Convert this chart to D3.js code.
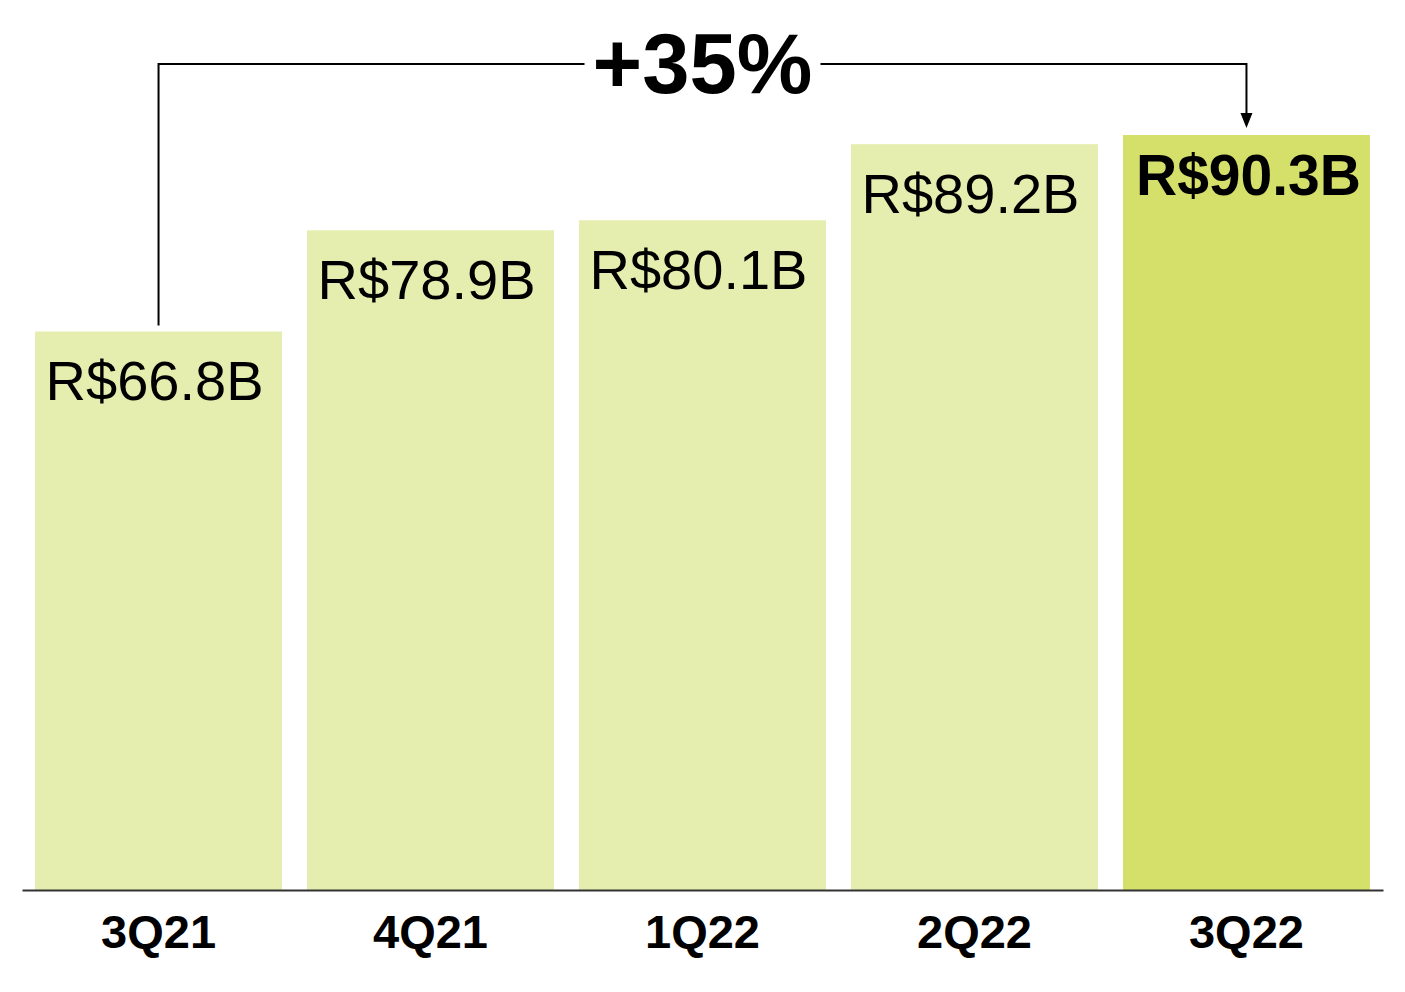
<!DOCTYPE html>
<html>
<head>
<meta charset="utf-8">
<script src="https://cdn.jsdelivr.net/npm/d3@7"></script>
<style>
  html, body { margin: 0; padding: 0; background: #fff; }
  text { font-family: "Liberation Sans", Arial, sans-serif; }
</style>
</head>
<body>
<svg id="chart" width="1405" height="992"></svg>
<script>
var quarters = ['3Q21', '4Q21', '1Q22', '2Q22', '3Q22'],
    volumes = [66.8, 78.9, 80.1, 89.2, 90.3],
    valueLabels = ['R$66.8B', 'R$78.9B', 'R$80.1B', 'R$89.2B', 'R$90.3B'],
    growthLabel = '+35%';

var svg = d3.select('#chart'),
    baseY = 890,
    lastIdx = quarters.length - 1;

var x = d3.scaleBand()
    .domain(quarters)
    .range([22, 1383])
    .paddingInner(0.092)
    .paddingOuter(0.048);

var y = d3.scaleLinear()
    .domain([0, d3.max(volumes)])
    .range([baseY, 135]);

// bars
svg.append('g').selectAll('.bar').data(volumes)
    .enter().append('rect')
    .attr('class', 'bar')
    .attr('x', function(d, i) { return x(quarters[i]); })
    .attr('y', function(d) { return y(d); })
    .attr('width', x.bandwidth())
    .attr('height', function(d) { return baseY - y(d); })
    .attr('fill', function(d, i) { return i === lastIdx ? '#d4e06a' : '#e5eeae'; });

// value labels inside bars, last one bold
svg.append('g').selectAll('.val').data(volumes)
    .enter().append('text')
    .attr('class', 'val')
    .attr('x', function(d, i) { return x(quarters[i]) + x.bandwidth() / 2 + (i === lastIdx ? 2 : -4); })
    .attr('y', function(d, i) { return y(d) + (i === lastIdx ? 60 : 69); })
    .attr('text-anchor', 'middle')
    .attr('font-size', function(d, i) { return i === lastIdx ? '57px' : '56px'; })
    .attr('font-weight', function(d, i) { return i === lastIdx ? 'bold' : 'normal'; })
    .attr('fill', '#000')
    .text(function(d, i) { return valueLabels[i]; });

// baseline axis
var axis = svg.append('g')
    .attr('transform', 'translate(0,' + baseY + ')')
    .call(d3.axisBottom(x).tickSize(0).tickPadding(58));
axis.select('.domain').attr('stroke', '#333').attr('stroke-width', 2);
axis.selectAll('text')
    .attr('font-family', '"Liberation Sans", Arial, sans-serif')
    .attr('font-size', '47px')
    .attr('font-weight', 'bold')
    .attr('fill', '#000')
    .attr('dy', 0);

// growth bracket from first to last bar
var cx0 = x(quarters[0]) + x.bandwidth() / 2,
    cx1 = x(quarters[lastIdx]) + x.bandwidth() / 2,
    topY = 64,
    midX = (cx0 + cx1) / 2;

var bracket = svg.append('g')
    .attr('fill', 'none')
    .attr('stroke', '#000')
    .attr('stroke-width', 2);
bracket.append('path')
    .attr('d', 'M' + cx0 + ',' + (y(volumes[0]) - 6) + 'V' + topY + 'H' + (midX - 118));
bracket.append('path')
    .attr('d', 'M' + (midX + 118) + ',' + topY + 'H' + cx1 + 'V' + (y(volumes[lastIdx]) - 18));
svg.append('path')
    .attr('d', 'M' + (cx1 - 6) + ',' + (y(volumes[lastIdx]) - 22) + 'L' + (cx1 + 6) + ',' +
          (y(volumes[lastIdx]) - 22) + 'L' + cx1 + ',' + (y(volumes[lastIdx]) - 7) + 'Z')
    .attr('fill', '#000');

svg.append('text')
    .attr('x', midX)
    .attr('y', 93)
    .attr('text-anchor', 'middle')
    .attr('font-size', '85px')
    .attr('font-weight', 'bold')
    .attr('fill', '#000')
    .text(growthLabel);
</script>
</body>
</html>
